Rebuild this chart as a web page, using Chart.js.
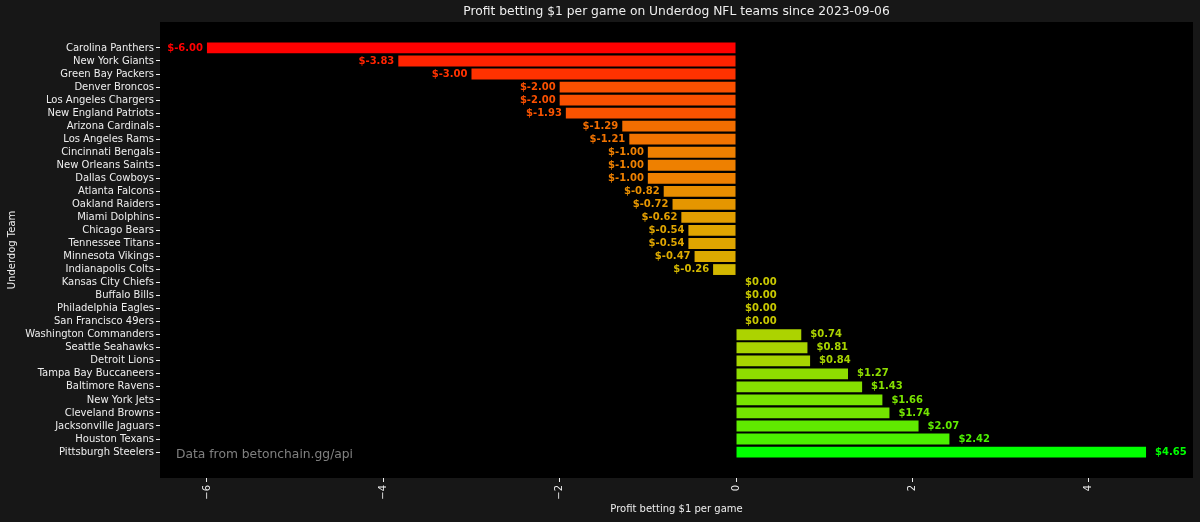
<!DOCTYPE html>
<html>
<head>
<meta charset="utf-8">
<script src="https://cdn.jsdelivr.net/npm/chart.js@4.4.0/dist/chart.umd.min.js"></script>
<style>
    html, body { margin: 0; padding: 0; background: #171717; }
    #wrap { width: 1200px; height: 522px; }
</style>
</head>
<body>
<div id="wrap"><canvas id="chart" width="1200" height="522"></canvas></div>
<script>
// Datos del gráfico (de arriba hacia abajo)
const teams = [
    'Carolina Panthers', 'New York Giants', 'Green Bay Packers', 'Denver Broncos',
    'Los Angeles Chargers', 'New England Patriots', 'Arizona Cardinals', 'Los Angeles Rams',
    'Cincinnati Bengals', 'New Orleans Saints', 'Dallas Cowboys', 'Atlanta Falcons',
    'Oakland Raiders', 'Miami Dolphins', 'Chicago Bears', 'Tennessee Titans',
    'Minnesota Vikings', 'Indianapolis Colts', 'Kansas City Chiefs', 'Buffalo Bills',
    'Philadelphia Eagles', 'San Francisco 49ers', 'Washington Commanders', 'Seattle Seahawks',
    'Detroit Lions', 'Tampa Bay Buccaneers', 'Baltimore Ravens', 'New York Jets',
    'Cleveland Browns', 'Jacksonville Jaguars', 'Houston Texans', 'Pittsburgh Steelers'
];
const profits = [
    -6.00, -3.83, -3.00, -2.00,
    -2.00, -1.93, -1.29, -1.21,
    -1.00, -1.00, -1.00, -0.82,
    -0.72, -0.62, -0.54, -0.54,
    -0.47, -0.26, 0.00, 0.00,
    0.00, 0.00, 0.74, 0.81,
    0.84, 1.27, 1.43, 1.66,
    1.74, 2.07, 2.42, 4.65
];
const xTicks = [-6, -4, -2, 0, 2, 4];

const chartTitle = 'Profit betting $1 per game on Underdog NFL teams since 2023-09-06';
const xTitle = 'Profit betting $1 per game';
const yTitle = 'Underdog Team';
const sourceNote = 'Data from betonchain.gg/api';

// Estilos
const FONT = 'DejaVu Sans';
const TEXT = '#eeeeee';

// Paradas de color por valor (rojo -> naranja -> amarillo -> verde)
const colorStops = [
    [-6.0, [255, 0, 0]],
    [-3.8, [255, 35, 0]],
    [-3.0, [255, 50, 0]],
    [-2.0, [250, 80, 0]],
    [-1.25, [242, 112, 0]],
    [-1.0, [238, 128, 0]],
    [-0.5, [222, 168, 0]],
    [0.0, [200, 200, 0]],
    [0.8, [170, 212, 0]],
    [1.5, [130, 225, 0]],
    [2.42, [75, 240, 0]],
    [4.65, [0, 255, 0]]
];

function colorFor(v) {
    if (v <= colorStops[0][0]) return rgb(colorStops[0][1]);
    for (let i = 1; i < colorStops.length; i++) {
        const [v1, c1] = colorStops[i];
        const [v0, c0] = colorStops[i - 1];
        if (v <= v1) {
            const t = (v - v0) / (v1 - v0);
            return rgb(c0.map((c, k) => c + (c1[k] - c) * t));
        }
    }
    return rgb(colorStops[colorStops.length - 1][1]);
}

function rgb(c) {
    return 'rgb(' + c.map(Math.round).join(',') + ')';
}

// Fondo de la figura y del área de trazado
const backgroundPlugin = {
    id: 'backgroundPlugin',
    beforeDraw: function(chart) {
        const ctx = chart.ctx;
        const a = chart.chartArea;
        ctx.save();
        ctx.fillStyle = '#171717';
        ctx.fillRect(0, 0, chart.width, chart.height);
        ctx.fillStyle = '#000000';
        ctx.fillRect(a.left, a.top, a.right - a.left, a.bottom - a.top);
        ctx.restore();
    }
};

// Etiquetas de valor, título y nota de fuente
const labelsPlugin = {
    id: 'labelsPlugin',
    afterDatasetsDraw: function(chart) {
        const ctx = chart.ctx;
        const meta = chart.getDatasetMeta(0);
        ctx.save();
        ctx.font = 'bold 10px "' + FONT + '"';
        ctx.textBaseline = 'middle';
        meta.data.forEach((bar, i) => {
            const v = profits[i];
            ctx.fillStyle = colorFor(v);
            if (v < 0) {
                ctx.textAlign = 'right';
                ctx.fillText('$' + v.toFixed(2), bar.x - 4, bar.y);
            } else {
                ctx.textAlign = 'left';
                ctx.fillText('$' + v.toFixed(2), bar.x + 9, bar.y);
            }
        });
        ctx.restore();
    },
    afterDraw: function(chart) {
        const ctx = chart.ctx;
        const a = chart.chartArea;
        ctx.save();
        ctx.textBaseline = 'middle';
        ctx.textAlign = 'center';
        ctx.fillStyle = TEXT;
        ctx.font = '12.3px "' + FONT + '"';
        ctx.fillText(chartTitle, (a.left + a.right) / 2, 12);

        ctx.textAlign = 'left';
        ctx.fillStyle = '#808080';
        ctx.font = '12.3px "' + FONT + '"';
        ctx.fillText(sourceNote, a.left + 16, 455);
        ctx.restore();
    }
};

const ctx = document.getElementById('chart');

new Chart(ctx, {
    type: 'bar',
    data: {
        datasets: [{
            data: profits.map((v, i) => ({ x: v, y: i })),
            backgroundColor: profits.map(colorFor),
            borderWidth: 0,
            categoryPercentage: 0.83,
            barPercentage: 1
        }]
    },
    options: {
        indexAxis: 'y',
        responsive: false,
        animation: false,
        layout: {
            padding: { top: 22, right: 7, left: 0, bottom: 0 }
        },
        plugins: {
            legend: { display: false },
            tooltip: { enabled: false }
        },
        scales: {
            x: {
                type: 'linear',
                position: 'bottom',
                min: -6.5325,
                max: 5.1825,
                afterBuildTicks: scale => {
                    scale.ticks = xTicks.map(v => ({ value: v }));
                },
                afterFit: scale => {
                    scale.height = 44;
                },
                ticks: {
                    color: TEXT,
                    font: { family: FONT, size: 10 },
                    minRotation: 90,
                    maxRotation: 90,
                    padding: 3,
                    callback: v => String(v).replace('-', '\u2212')
                },
                grid: {
                    display: true,
                    drawOnChartArea: false,
                    drawTicks: true,
                    tickLength: 4,
                    tickColor: TEXT
                },
                border: { display: false },
                title: {
                    display: true,
                    text: xTitle,
                    color: TEXT,
                    font: { family: FONT, size: 10 },
                    padding: { top: 0, bottom: 7 }
                }
            },
            y: {
                type: 'linear',
                reverse: true,
                offset: false,
                min: -1.99,
                max: 32.99,
                afterBuildTicks: scale => {
                    scale.ticks = teams.map((t, i) => ({ value: i }));
                },
                afterFit: scale => {
                    scale.width = 160;
                },
                ticks: {
                    color: TEXT,
                    font: { family: FONT, size: 10 },
                    autoSkip: false,
                    padding: 2,
                    callback: v => teams[v]
                },
                grid: {
                    display: true,
                    offset: false,
                    drawOnChartArea: false,
                    drawTicks: true,
                    tickLength: 4,
                    tickColor: TEXT
                },
                border: { display: false },
                title: {
                    display: true,
                    text: yTitle,
                    color: TEXT,
                    font: { family: FONT, size: 10 },
                    padding: { top: 6, bottom: 0 }
                }
            }
        }
    },
    plugins: [backgroundPlugin, labelsPlugin]
});
</script>
</body>
</html>
